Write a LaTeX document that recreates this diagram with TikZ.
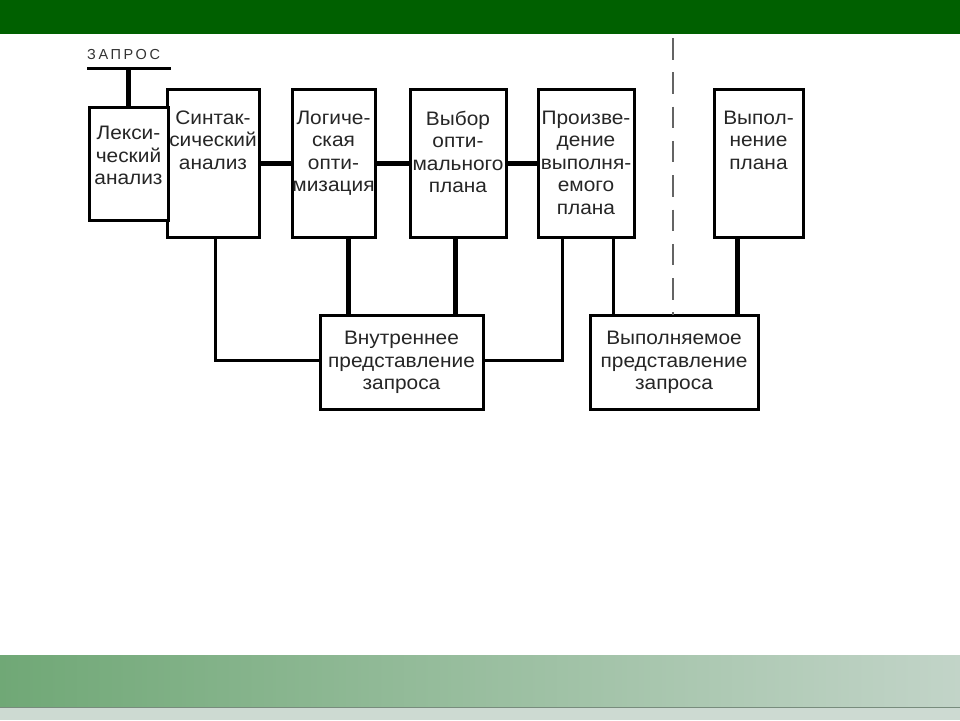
\documentclass[tikz,border=0pt]{standalone}
\usepackage{fontspec}
\setmainfont{Liberation Sans}
\definecolor{slidegreen}{RGB}{0,96,0}
\definecolor{barleft}{RGB}{112,168,118}
\definecolor{barright}{RGB}{194,212,200}
\definecolor{barline}{RGB}{120,140,125}
\definecolor{barbase}{RGB}{205,218,210}
\definecolor{dashgray}{RGB}{100,100,100}
\usetikzlibrary{positioning}

\begin{document}
\begin{tikzpicture}[x=1pt, y=-1pt,
  sbox/.style={rectangle, draw=black, line width=3pt, fill=white, inner sep=0pt},
  stxt/.style={font=\fontsize{19.5}{22.5}\selectfont\addfontfeatures{FakeStretch=1.07}, align=center, inner sep=0pt, text=black!85},
  thinlink/.style={line width=3pt},
  thicklink/.style={line width=5pt}
]
\useasboundingbox (0,0) rectangle (960,720);

% Slide bars
\fill[slidegreen] (0,0) rectangle (960,34);
\shade[left color=barleft, right color=barright] (0,655) rectangle (960,707);
\fill[barbase] (0,708) rectangle (960,720);
\draw[barline, line width=1.5pt] (0,707.5) -- (960,707.5);

% Stage boxes
\node[sbox, minimum width=92, minimum height=148] (syn) at (213,163)   {};
\node[sbox, minimum width=79, minimum height=113] (lex) at (128.5,163.5) {};
\node[sbox, minimum width=83, minimum height=148] (log) at (333.5,163) {};
\node[sbox, minimum width=96, minimum height=148] (opt) at (458,163)   {};
\node[sbox, minimum width=96, minimum height=148] (gen) at (586,163)   {};
\node[sbox, minimum width=89, minimum height=148] (run) at (758.5,163) {};

\node[stxt, anchor=north] (lex-t) at ([yshift=-20.5pt]lex.north) {Лекси-\\ческий\\анализ};
\node[stxt, anchor=north] (syn-t) at ([yshift=-23pt]syn.north) {Синтак-\\сический\\анализ};
\node[stxt, anchor=north] (log-t) at ([yshift=-23pt]log.north) {Логиче-\\ская\\опти-\\мизация};
\node[stxt, anchor=north] (opt-t) at ([yshift=-23pt]opt.north) {Выбор\\опти-\\мального\\плана};
\node[stxt, anchor=north] (gen-t) at ([yshift=-23pt]gen.north) {Произве-\\дение\\выполня-\\емого\\плана};
\node[stxt, anchor=north] (run-t) at ([yshift=-23pt]run.north) {Выпол-\\нение\\плана};

% Representation boxes
\node[sbox, stxt, minimum width=163, minimum height=94] (intr) at (401.5,362.5) {Внутреннее\\представление\\запроса};
\node[sbox, stxt, minimum width=168, minimum height=94] (exe)  at (674,362.5)   {Выполняемое\\представление\\запроса};

% Request input
\node[font=\fontsize{14.5}{17}\selectfont\addfontfeatures{LetterSpace=18}, text=black!80, anchor=base west, inner sep=0pt] (zap) at (87,59) {ЗАПРОС};
\coordinate (zl) at (87,68);
\coordinate (zr) at (171,68);
\draw[thinlink] (zl) -- (zr);
\draw[thicklink] (lex.north) -- (lex.north |- zl);

% Pipeline
\draw[thicklink] (syn) -- (log);
\draw[thicklink] (log) -- (opt);
\draw[thicklink] (opt) -- (gen);

% Links to representations
\coordinate (synd) at ([xshift=2pt]syn.south);
\coordinate (logd) at ([xshift=15pt]log.south);
\coordinate (optd) at ([xshift=-3pt]opt.south);
\coordinate (genl) at ([xshift=-24pt]gen.south);
\coordinate (genr) at ([xshift=27pt]gen.south);
\coordinate (rund) at ([xshift=-21pt]run.south);
\draw[thinlink]  (synd) |- ([yshift=2pt]intr.west);
\draw[thinlink]  ([yshift=2pt]intr.east) -| (genl);
\draw[thicklink] (logd) -- (logd |- intr.north);
\draw[thicklink] (optd) -- (optd |- intr.north);
\draw[thinlink]  (genr) -- (genr |- exe.north);
\draw[thicklink] (rund) -- (rund |- exe.north);

% Separator
\coordinate (sep-top) at (673,38);
\coordinate (sep-bot) at (673,315);
\draw[dashgray, line width=2pt, dash pattern=on 21.5pt off 12.8pt] (sep-top) -- (sep-bot);
\end{tikzpicture}
\end{document}
